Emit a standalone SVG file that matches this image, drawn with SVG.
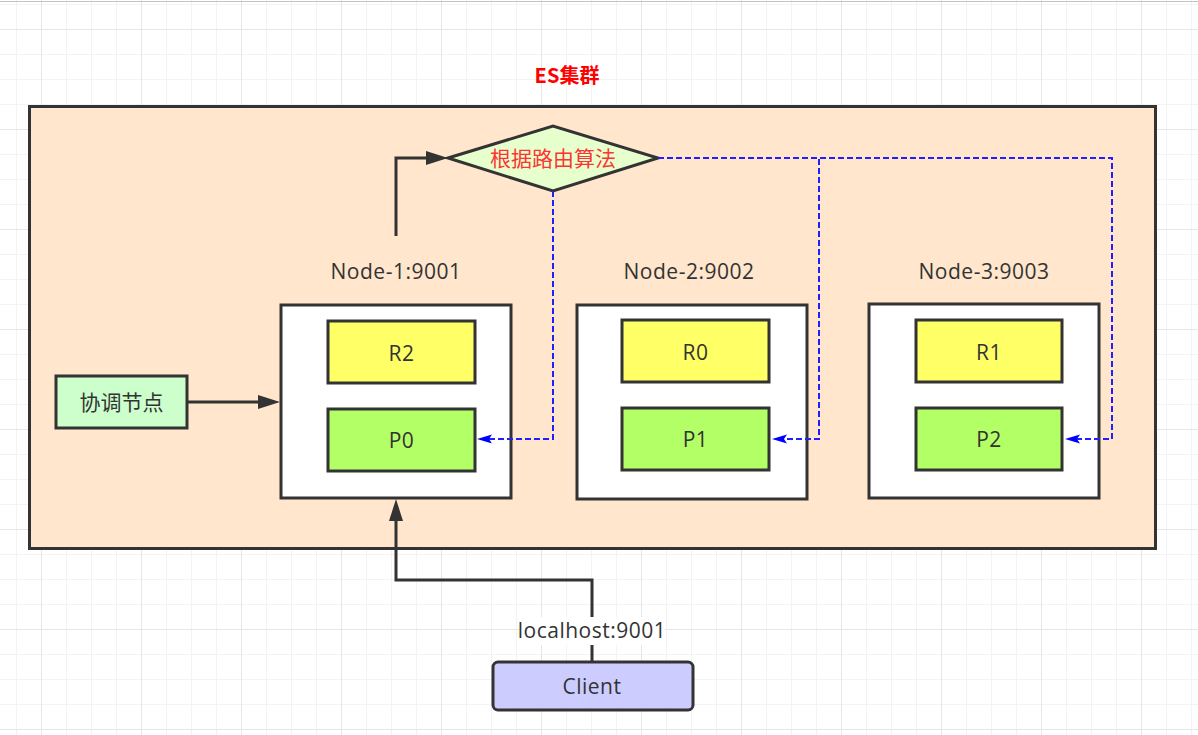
<svg xmlns="http://www.w3.org/2000/svg" width="1198" height="735" viewBox="0 0 1198 735">
<defs>
<style>
.bx{stroke:#333;stroke-width:3}
.t{font-family:"Open Sans","Noto Sans CJK SC",sans-serif;font-size:21px;letter-spacing:0.5px;fill:#333;text-anchor:middle}
.cjk{font-family:"Noto Sans CJK SC","Open Sans",sans-serif;font-size:21px;text-anchor:middle}
.sol{fill:none;stroke:#333;stroke-width:3}
.dsh{fill:none;stroke:#2020ff;stroke-width:2;stroke-dasharray:6 3}
</style>
<pattern id="grid" patternUnits="userSpaceOnUse" x="41" y="29" width="100" height="100">
<rect x="0" y="0" width="100" height="100" fill="#ffffff"/>
<g fill="#f3f3f3">
<rect x="25" y="0" width="1" height="100"/><rect x="50" y="0" width="1" height="100"/><rect x="75" y="0" width="1" height="100"/>
<rect x="0" y="25" width="100" height="1"/><rect x="0" y="50" width="100" height="1"/><rect x="0" y="75" width="100" height="1"/>
</g>
<g fill="#e6e6e6">
<rect x="0" y="0" width="1" height="100"/><rect x="0" y="0" width="100" height="1"/>
</g>
</pattern>
<marker id="ab" markerUnits="userSpaceOnUse" markerWidth="24" markerHeight="16" refX="0" refY="7" orient="auto">
<path d="M0,0 L22,7 L0,14 Z" fill="#333"/>
</marker>
<marker id="au" markerUnits="userSpaceOnUse" markerWidth="18" markerHeight="12" refX="3" refY="4.5" orient="auto">
<path d="M0,0 L15,4.5 L0,9 L3,4.5 Z" fill="#0000ff"/>
</marker>
</defs>
<rect x="0" y="0" width="1198" height="735" fill="url(#grid)"/>
<rect x="0" y="1" width="1198" height="1" fill="#c4c4c4"/>

<g id="cluster">
<rect x="29.5" y="106.5" width="1126" height="442" fill="#ffe6cc" class="bx"/>
<text x="567" y="83" font-family="'Noto Sans CJK SC','Open Sans',sans-serif" font-size="20" font-weight="bold" fill="#ff0000" text-anchor="middle">ES集群</text>
</g>

<g id="router">
<polygon points="448,158 553,126 658,158 553,191" fill="#e6ffcc" class="bx"/>
<text x="553" y="166" class="cjk" fill="#ff3333">根据路由算法</text>
</g>

<g id="coordinator">
<rect x="56" y="376" width="131" height="52" fill="#ccffcc" class="bx"/>
<text x="121.5" y="410" class="cjk" fill="#333">协调节点</text>
</g>

<g id="node1">
<text x="396" y="279" class="t">Node-1:9001</text>
<rect x="281" y="305" width="230" height="193" fill="#ffffff" class="bx"/>
<rect x="328" y="321" width="147" height="62" fill="#ffff66" class="bx"/>
<text x="401.5" y="361" class="t">R2</text>
<rect x="328" y="409" width="147" height="62" fill="#b3ff66" class="bx"/>
<text x="401.5" y="448" class="t">P0</text>
</g>

<g id="node2">
<text x="689" y="279" class="t">Node-2:9002</text>
<rect x="577" y="305" width="230" height="194" fill="#ffffff" class="bx"/>
<rect x="622" y="320" width="147" height="62" fill="#ffff66" class="bx"/>
<text x="695.5" y="360" class="t">R0</text>
<rect x="622" y="408" width="147" height="62" fill="#b3ff66" class="bx"/>
<text x="695.5" y="447" class="t">P1</text>
</g>

<g id="node3">
<text x="984" y="279" class="t">Node-3:9003</text>
<rect x="869" y="304" width="230" height="194" fill="#ffffff" class="bx"/>
<rect x="916" y="320" width="146" height="62" fill="#ffff66" class="bx"/>
<text x="989" y="360" class="t">R1</text>
<rect x="916" y="408" width="146" height="62" fill="#b3ff66" class="bx"/>
<text x="989" y="447" class="t">P2</text>
</g>

<g id="client">
<rect x="493" y="662" width="200" height="48" rx="5" ry="5" fill="#ccccff" class="bx"/>
<text x="592" y="694" class="t">Client</text>
</g>

<g id="connectors">
<path d="M396,236 V158 H426" class="sol" marker-end="url(#ab)"/>
<path d="M187,402 H258" class="sol" marker-end="url(#ab)"/>
<path d="M592,662 V580 H396 V521" class="sol" marker-end="url(#ab)"/>
<rect x="519" y="617" width="146" height="28" fill="#ffffff"/>
<text x="592" y="638" class="t">localhost:9001</text>
<path d="M553,191 V439 H489" class="dsh" marker-end="url(#au)"/>
<path d="M658,158 H819 V439 H784" class="dsh" marker-end="url(#au)"/>
<path d="M658,158 H1112 V439 H1077" class="dsh" marker-end="url(#au)"/>
</g>
</svg>
